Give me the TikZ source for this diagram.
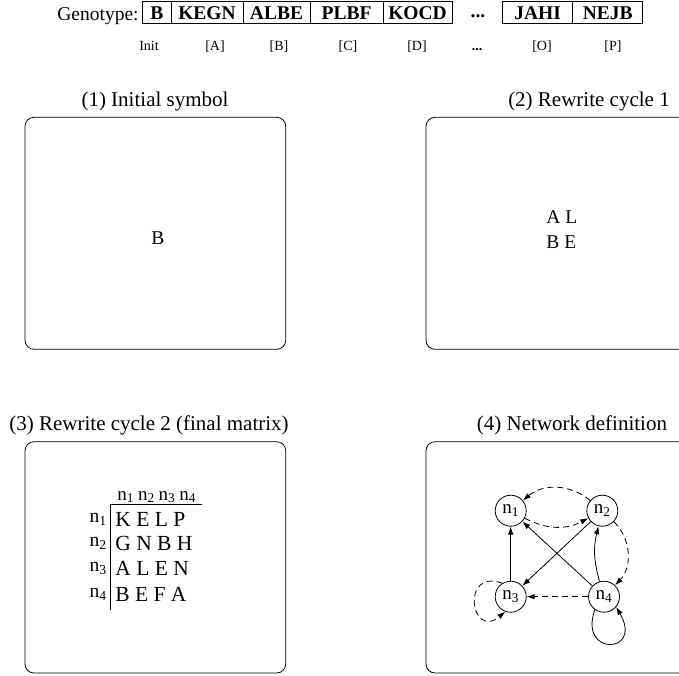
\documentclass[tikz,border=0pt]{standalone}
\usepackage{fontspec}
\setmainfont{Liberation Serif}
\usetikzlibrary{arrows.meta,positioning}

\begin{document}
\begin{tikzpicture}
	[x=1pt,y=-1pt,>={Latex[length=8pt,width=5.5pt]},line width=0.8pt,
		gene/.style={draw,minimum height=22pt,inner sep=0pt,outer sep=0pt,font=\fontsize{19.5}{22}\selectfont\bfseries},
		tag/.style={anchor=base,font=\fontsize{14}{16}\selectfont},
		title/.style={anchor=base,font=\fontsize{21}{24}\selectfont},
		panel/.style={draw,rounded corners=9pt},
		cell/.style={anchor=base west,inner sep=0pt,font=\fontsize{19.5}{22}\selectfont},
		net node/.style={circle,draw,minimum size=31pt,inner sep=0pt,font=\fontsize{19}{22}\selectfont},
		dash edge/.style={->,dash pattern=on 6pt off 4pt},
		solid edge/.style={->}]

	\useasboundingbox (0,0) rectangle (679,675);
	\clip (0,0) rectangle (679,675);

	% genotype
	\node[anchor=base east,inner sep=0pt,font=\fontsize{19.5}{22}\selectfont] (geno) at (139,20.7) {Genotype:};
	\node[gene,minimum width=28.3pt] (g0) at (156.85,12.85) {B};
	\node[gene,minimum width=72pt,right=0pt of g0] (gA) {KEGN};
	\node[gene,minimum width=67pt,right=0pt of gA] (gB) {ALBE};
	\node[gene,minimum width=73pt,right=0pt of gB] (gC) {PLBF};
	\node[gene,minimum width=69pt,right=0pt of gC] (gD) {KOCD};
	\node[anchor=base,inner sep=0pt,font=\fontsize{19.5}{22}\selectfont\bfseries] (gdots) at (478,17) {...};
	\node[gene,minimum width=70pt] (gO) at (537.7,12.85) {JAHI};
	\node[gene,minimum width=70pt,right=0pt of gO] (gP) {NEJB};

	\node[tag] (tInit) at (149,50) {Init};
	\node[tag] (tA) at (215,50) {[A]};
	\node[tag] (tB) at (279,50) {[B]};
	\node[tag] (tC) at (348,50) {[C]};
	\node[tag] (tD) at (417,50) {[D]};
	\node[tag,font=\fontsize{14}{16}\selectfont\bfseries] (tdots) at (477,50) {...};
	\node[tag] (tO) at (542,50) {[O]};
	\node[tag] (tP) at (613,50) {[P]};

	% panels
	\draw[panel] (25,117.3) rectangle (285.7,349.3);
	\draw[panel] (426,117.3) rectangle (700,349.3);
	\draw[panel] (25,441.7) rectangle (285.7,673);
	\draw[panel] (426,441.7) rectangle (700,673);

	\node[title] (h1) at (155,106) {(1) Initial symbol};
	\node[title] (h2) at (589,106) {(2) Rewrite cycle 1};
	\node[title] (h3) at (149,430) {(3) Rewrite cycle 2 (final matrix)};
	\node[title] (h4) at (572,430) {(4) Network definition};

	% (1) and (2)
	\node[font=\fontsize{19.5}{22}\selectfont] (axiom) at (158,237.7) {B};
	\node[cell] (c1) at (546,223.3) {A L};
	\node[cell] (c2) at (546,248.3) {B E};

	% (3) matrix
	\node[cell,font=\fontsize{19}{22}\selectfont] (head) at (117,500) {n\textsubscript{1}\hspace{4pt}n\textsubscript{2}\hspace{4pt}n\textsubscript{3}\hspace{4pt}n\textsubscript{4}};
	\draw (110,504) -- (202,504);
	\draw (110,504) -- (110,610);
	\node[cell,anchor=base east] (l1) at (107,522) {n\textsubscript{1}};
	\node[cell,anchor=base east] (l2) at (107,546) {n\textsubscript{2}};
	\node[cell,anchor=base east] (l3) at (107,571) {n\textsubscript{3}};
	\node[cell,anchor=base east] (l4) at (107,597) {n\textsubscript{4}};
	\node[cell,font=\fontsize{21.5}{24}\selectfont] (r1) at (115,526) {K E L P};
	\node[cell,font=\fontsize{21.5}{24}\selectfont] (r2) at (115,550) {G N B H};
	\node[cell,font=\fontsize{21.5}{24}\selectfont] (r3) at (115,575) {A L E N};
	\node[cell,font=\fontsize{21.5}{24}\selectfont] (r4) at (115,601) {B E F A};

	% (4) network
	\node[net node] (n1) at (510.7,510.7) {n\textsubscript{1}};
	\node[net node] (n2) at (602.3,510.7) {n\textsubscript{2}};
	\node[net node] (n3) at (510.7,596.7) {n\textsubscript{3}};
	\node[net node] (n4) at (604,596.7) {n\textsubscript{4}};

	\draw[dash edge] (n2) to[bend right=40] (n1);
	\draw[dash edge] (n1) to[bend right=28] (n2);
	\draw[dash edge] (n2) to[bend left=45] (n4);
	\draw[dash edge] (n4) -- (n3);
	\draw[dash edge] (n3.122) .. controls +(-160:45) and +(140:45) .. (n3.-110);
	\draw[solid edge] (n3) -- (n1);
	\draw[solid edge] (n4) -- (n1);
	\draw[solid edge] (n2) -- (n3);
	\draw[solid edge] (n4) to[bend left=15] (n2);
	\draw[solid edge] (n4.-125) .. controls +(110:50) and +(60:55) .. (n4.-40);

\end{tikzpicture}
\end{document}
